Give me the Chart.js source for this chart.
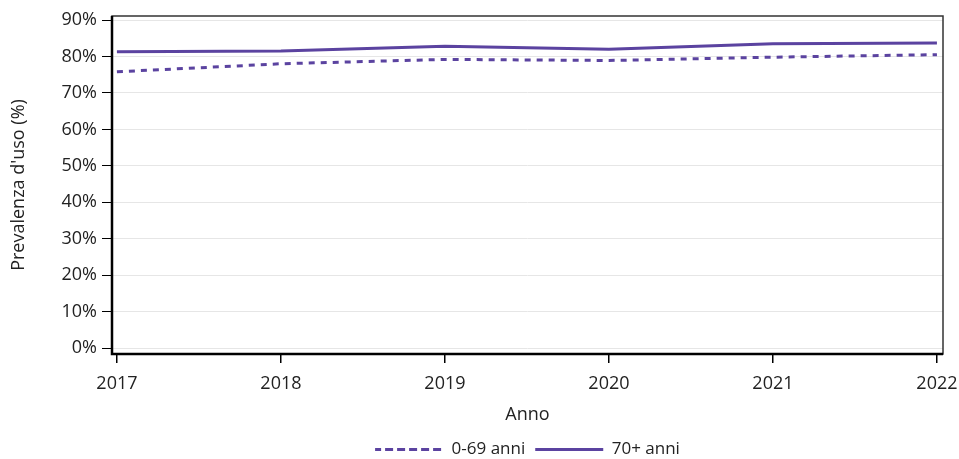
<!DOCTYPE html>
<html>
<head>
<meta charset="utf-8">
<script src="https://cdn.jsdelivr.net/npm/chart.js@4"></script>
<style>
    html, body { margin: 0; padding: 0; background: #fff; }
    #wrap { width: 959px; height: 459px; }
</style>
</head>
<body>
<div id="wrap"><canvas id="myChart" width="959" height="459"></canvas></div>
<script>
const years = [2017, 2018, 2019, 2020, 2021, 2022];
const young = [75.8, 78.0, 79.2, 78.9, 79.8, 80.5];   // 0-69 anni
const old = [81.3, 81.5, 82.8, 82.0, 83.5, 83.7];     // 70+ anni
const seriesNames = ["0-69 anni", "70+ anni"];

const purple = '#5b43a0';
const font = "'Open Sans', 'Noto Sans', sans-serif";

Chart.defaults.font.family = font;
Chart.defaults.color = '#222';

// frame around the plot area
const frame = {
    id: 'frame',
    afterDraw(chart) {
        const a = chart.chartArea;
        const ctx = chart.ctx;
        ctx.save();
        ctx.strokeStyle = '#333';
        ctx.lineWidth = 1.5;
        ctx.strokeRect(a.left, a.top, a.right - a.left, a.bottom - a.top);
        ctx.strokeStyle = '#000';
        ctx.lineWidth = 2.5;
        ctx.beginPath();
        ctx.moveTo(a.left, a.top);
        ctx.lineTo(a.left, a.bottom);
        ctx.lineTo(a.right, a.bottom);
        ctx.stroke();
        ctx.restore();
    }
};

const data = {
    datasets: [
        {
            label: seriesNames[0],
            data: years.map(function(y, i) { return {x: y, y: young[i]}; }),
            borderColor: purple,
            backgroundColor: purple,
            borderWidth: 3,
            borderDash: [6, 6],
            pointRadius: 0,
            tension: 0,
        },
        {
            label: seriesNames[1],
            data: years.map(function(y, i) { return {x: y, y: old[i]}; }),
            borderColor: purple,
            backgroundColor: purple,
            borderWidth: 3,
            pointRadius: 0,
            tension: 0,
        },
    ],
};

const config = {
    type: 'line',
    data: data,
    plugins: [frame],
    options: {
        responsive: false,
        animation: false,
        layout: {
            padding: {top: 16, right: 16, left: 0, bottom: -9},
        },
        plugins: {
            legend: {
                display: true,
                position: 'bottom',
                fullSize: false,
                labels: {
                    boxWidth: 68,
                    boxHeight: 0,
                    padding: 10,
                    color: '#222',
                    font: {size: 17},
                },
            },
            tooltip: {enabled: false},
        },
        scales: {
            x: {
                type: 'linear',
                min: 2016.97,
                max: 2022.037,
                afterFit: function(scale) {
                    scale.height = 77;
                    scale.paddingLeft = 0;
                    scale.paddingRight = 0;
                },
                border: {display: false},
                grid: {
                    drawOnChartArea: false,
                    tickColor: '#000',
                    tickLength: 9,
                    lineWidth: 1.5,
                },
                ticks: {
                    stepSize: 1,
                    includeBounds: false,
                    autoSkip: false,
                    maxRotation: 0,
                    padding: 10,
                    color: '#222',
                    font: {size: 18},
                    callback: function(v) { return String(v); },
                },
                title: {
                    display: true,
                    text: "Anno",
                    color: '#222',
                    font: {size: 18},
                    padding: {top: 4, bottom: 5},
                },
            },
            y: {
                min: -1.6,
                max: 91.1,
                afterFit: function(scale) { scale.width = 112; },
                border: {display: false},
                grid: {
                    color: '#e6e6e6',
                    tickColor: '#000',
                    tickLength: 10,
                    lineWidth: 1,
                },
                ticks: {
                    stepSize: 10,
                    includeBounds: false,
                    padding: 5,
                    color: '#222',
                    font: {size: 18},
                    callback: function(v) { return v + '%'; },
                },
                title: {
                    display: true,
                    text: "Prevalenza d'uso (%)",
                    color: '#222',
                    font: {size: 18},
                    padding: {top: 8, bottom: 4},
                },
            },
        },
    },
};

const myChart = new Chart(
    document.getElementById('myChart'),
    config,
);
</script>
</body>
</html>
